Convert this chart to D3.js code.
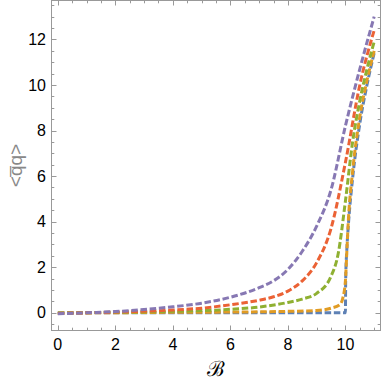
<!DOCTYPE html>
<html>
<head>
<meta charset="utf-8">
<script src="https://cdn.jsdelivr.net/npm/d3@7"></script>
<style>
  body { margin: 0; background: #fff; }
  svg { display: block; }
</style>
</head>
<body>
<svg id="chart"></svg>
<script>
const WIDTH = 382;
const HEIGHT = 383;

// values
const blueX   = [0, 2, 4, 6, 8, 9, 9.5, 9.9, 10, 10.01, 10.05, 10.1, 10.25, 10.5, 10.75, 11];
const blueY   = [0, 0, 0, 0, 0, 0, 0, 0, 0, 1.5, 2.8, 3.8, 5.9, 8.3, 10.0, 11.4];
const orangeX = [0, 2, 4, 6, 8, 9, 9.5, 9.8, 9.9, 10, 10.05, 10.1, 10.25, 10.5, 10.75, 11];
const orangeY = [-0.01, 0, 0.02, 0.03, 0.06, 0.1, 0.2, 0.35, 0.6, 1.4, 2.7, 4.0, 6.2, 8.6, 10.2, 11.5];
const greenX  = [0, 2, 4, 6, 7, 8, 8.5, 9, 9.5, 9.75, 10, 10.25, 10.5, 10.75, 11];
const greenY  = [-0.02, 0.02, 0.06, 0.15, 0.25, 0.45, 0.6, 0.85, 1.6, 2.6, 4.9, 7.5, 9.3, 10.7, 11.9];
const redX    = [0, 2, 4, 5, 6, 7, 7.5, 8, 8.5, 9, 9.5, 10, 10.5, 11];
const redY    = [-0.03, 0.03, 0.12, 0.2, 0.35, 0.55, 0.7, 0.95, 1.4, 2.2, 3.7, 6.6, 10.0, 12.4];
const purpleX = [0, 1, 2, 3, 4, 5, 6, 7, 7.5, 8, 8.5, 9, 9.5, 10, 10.5, 11];
const purpleY = [-0.05, 0, 0.05, 0.14, 0.26, 0.42, 0.68, 1.1, 1.4, 1.9, 2.7, 3.8, 5.4, 8.2, 10.7, 13.0];

const seriesNames  = ["blue", "orange", "green", "red", "purple"];
const seriesColors = ["#5e81b5", "#e19c24", "#8fb032", "#eb6235", "#8778b3"];

const xTicks = [0, 2, 4, 6, 8, 10];
const yTicks = [0, 2, 4, 6, 8, 10, 12];

const series = [
    [blueX, blueY], [orangeX, orangeY], [greenX, greenY], [redX, redY], [purpleX, purpleY]
].map(([xs, ys], i) => ({
    name: seriesNames[i],
    color: seriesColors[i],
    points: xs.map((x, j) => [x, ys[j]])
}));

const svg = d3.select("#chart")
    .attr("width", WIDTH)
    .attr("height", HEIGHT);

const plotLeft = 51.5, plotRight = 380.5, plotTop = 0.5, plotBottom = 330.5;

const x = d3.scaleLinear().domain([-0.22, 11.22]).range([plotLeft, plotRight]);
const y = d3.scaleLinear().domain([-0.78, 13.71]).range([plotBottom, plotTop]);

const frameColor = "#999999";

// minor tick positions every 0.5
const xMinor = d3.range(0, 11.01, 0.5).filter(v => !xTicks.includes(v));
const yMinor = d3.range(-0.5, 13.51, 0.5).filter(v => !yTicks.includes(v));

const ticks = svg.append("g").attr("stroke", frameColor).attr("stroke-width", 1);

// bottom + top ticks
[[xTicks, 5], [xMinor, 2.8]].forEach(([vals, len]) => {
    vals.forEach(v => {
        const px = Math.round(x(v)) + 0.5;
        ticks.append("line").attr("x1", px).attr("x2", px).attr("y1", plotBottom).attr("y2", plotBottom - len);
        ticks.append("line").attr("x1", px).attr("x2", px).attr("y1", plotTop).attr("y2", plotTop + len);
    });
});
// left + right ticks
[[yTicks, 5], [yMinor, 2.8]].forEach(([vals, len]) => {
    vals.forEach(v => {
        const py = Math.round(y(v)) + 0.5;
        ticks.append("line").attr("y1", py).attr("y2", py).attr("x1", plotLeft).attr("x2", plotLeft + len);
        ticks.append("line").attr("y1", py).attr("y2", py).attr("x1", plotRight).attr("x2", plotRight - len);
    });
});

// curves
const line = d3.line()
    .x(d => x(d[0]))
    .y(d => y(d[1]))
    .curve(d3.curveMonotoneX);

svg.append("g")
    .selectAll("path")
    .data(series)
    .enter()
    .append("path")
    .attr("d", d => line(d.points))
    .attr("fill", "none")
    .attr("stroke", d => d.color)
    .attr("stroke-width", 3)
    .attr("stroke-dasharray", "6.5,2.7")
    .attr("stroke-linejoin", "round");

// frame
svg.append("rect")
    .attr("x", plotLeft)
    .attr("y", plotTop)
    .attr("width", plotRight - plotLeft)
    .attr("height", plotBottom - plotTop)
    .attr("fill", "none")
    .attr("stroke", frameColor)
    .attr("stroke-width", 1);

// tick labels
const labelFont = "'Liberation Sans', Arial, sans-serif";
svg.append("g")
    .selectAll("text")
    .data(xTicks)
    .enter()
    .append("text")
    .attr("x", d => x(d))
    .attr("y", 350)
    .attr("text-anchor", "middle")
    .style("font-family", labelFont)
    .style("font-size", "16px")
    .attr("fill", "#000")
    .text(d => d);

svg.append("g")
    .selectAll("text")
    .data(yTicks)
    .enter()
    .append("text")
    .attr("x", 46)
    .attr("y", d => y(d))
    .attr("dy", "0.36em")
    .attr("text-anchor", "end")
    .style("font-family", labelFont)
    .style("font-size", "16px")
    .attr("fill", "#000")
    .text(d => d);

// axis titles
svg.append("text")
    .attr("x", (plotLeft + plotRight) / 2)
    .attr("y", 376)
    .attr("text-anchor", "middle")
    .style("font-family", "'DejaVu Serif', serif")
    .style("font-size", "21px")
    .attr("fill", "#000")
    .text("\u212C");

svg.append("text")
    .attr("transform", `translate(22, ${(plotTop + plotBottom) / 2}) rotate(-90)`)
    .attr("text-anchor", "middle")
    .style("font-family", labelFont)
    .style("font-size", "19px")
    .attr("fill", "#888888")
    .text("<q\u0305q>");
</script>
</body>
</html>
